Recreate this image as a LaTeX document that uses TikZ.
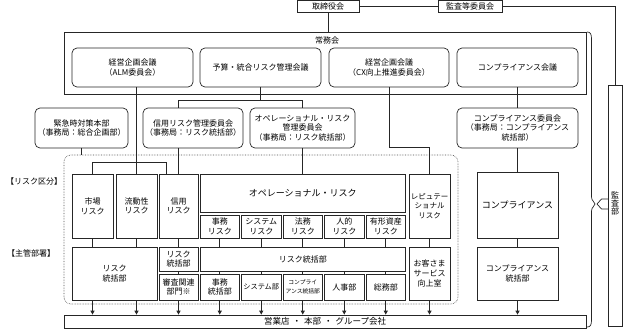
\documentclass[tikz,border=0pt]{standalone}
\usepackage{fontspec}
\newfontfamily\jp{Noto Sans CJK JP}
\usetikzlibrary{arrows.meta}
\newcommand\mkbox[7]{\node[#6, minimum width={#4-#2}, minimum height={#5-#3}] (#1) at ({(#2+#4)/2},{(#3+#5)/2}) {#7};}
\newcommand\fs[2]{\jp\fontsize{#1}{#2}\selectfont}
\begin{document}
\begin{tikzpicture}[x=1pt,y=-1pt,
  every node/.style={font=\jp\fontsize{8}{9.6}\selectfont, text=black},
  box/.style={draw=black!85, line width=0.7pt, inner sep=0pt, align=center},
  rbox/.style={box, rounded corners=5pt},
  ln/.style={draw=black!85, line width=0.7pt},
  arr/.style={ln, -{Triangle[length=4pt,width=4pt]}},
]
\useasboundingbox (0,0) rectangle (623,330);
% top
\mkbox{tori}{297}{0.5}{359}{12.5}{box}{取締役会}
\mkbox{kansa}{438}{0.5}{502}{12.5}{box}{監査等委員会}
\mkbox{joumu}{64}{32}{586}{94}{box}{}
\node (joumulbl) at (327,40.5) {常務会};
\mkbox{alm}{72}{48}{193}{87}{rbox}{経営企画会議\\（ALM委員会）}
\mkbox{yosan}{200}{48}{321}{87}{rbox}{予算・統合リスク管理会議}
\mkbox{cx}{329}{48}{449}{87}{rbox}{経営企画会議\\（CX向上推進委員会）}
\mkbox{compkai}{457}{48}{578}{87}{rbox}{コンプライアンス会議}
% committees
\mkbox{kinkyu}{35}{108}{128}{148}{rbox}{緊急時対策本部\\（事務局：総合企画部）}
\mkbox{shinyoi}{143}{108}{243}{148}{rbox}{信用リスク管理委員会\\（事務局：リスク統括部）}
\mkbox{opei}{250}{108}{355}{148}{rbox}{オペレーショナル・リスク\\管理委員会\\（事務局：リスク統括部）}
\mkbox{compi}{457}{108}{578}{148}{rbox}{コンプライアンス委員会\\（事務局：コンプライアンス\\統括部）}
% dotted area
\draw[densely dotted, draw=black!70, line width=0.6pt, rounded corners=7pt] (64,155) rectangle (458,304);
\coordinate (dtop) at (81.5,155);
\node (lbl1) at (34,181) {【リスク区分】};
\node (lbl2) at (31,253) {【主管部署】};
% risk row
\mkbox{shijo}{72}{174}{113}{238}{box}{市場\\リスク}
\mkbox{ryudo}{116}{174}{157}{238}{box}{流動性\\リスク}
\mkbox{shinyo}{159}{174}{198}{238}{box}{信用\\リスク}
\mkbox{ope}{200}{174}{405.5}{212}{box,font=\fs{9}{11}}{オペレーショナル・リスク}
\mkbox{s1}{200}{215}{239.5}{238}{box}{事務\\リスク}
\mkbox{s2}{241.5}{215}{281}{238}{box}{システム\\リスク}
\mkbox{s3}{283}{215}{322.5}{238}{box}{法務\\リスク}
\mkbox{s4}{324.5}{215}{364}{238}{box}{人的\\リスク}
\mkbox{s5}{366}{215}{405.5}{238}{box}{有形資産\\リスク}
\mkbox{repu}{409}{174}{450}{238}{box,font=\fs{7.5}{9.5}}{レピュテー\\ショナル\\リスク}
\mkbox{comp}{477}{172}{558}{238}{box,font=\fs{9}{11}}{コンプライアンス}
% department row
\mkbox{d1}{72}{247}{157}{300}{box}{リスク\\統括部}
\mkbox{d2}{159}{247}{198}{271}{box}{リスク\\統括部}
\mkbox{d3}{159}{274}{198}{300}{box}{審査関連\\部門※}
\mkbox{d4}{200}{247}{405.5}{271}{box}{リスク統括部}
\mkbox{e1}{200}{274}{239.5}{300}{box}{事務\\統括部}
\mkbox{e2}{241.5}{274}{281}{300}{box,font=\fs{7.2}{9}}{システム部}
\mkbox{e3}{283}{274}{322.5}{300}{box,font=\fs{5.8}{8.5}}{コンプライ\\アンス統括部}
\mkbox{e4}{324.5}{274}{364}{300}{box}{人事部}
\mkbox{e5}{366}{274}{405.5}{300}{box}{総務部}
\mkbox{d5}{409}{247}{450}{300}{box}{お客さま\\サービス\\向上室}
\mkbox{d6}{477}{247}{558}{300}{box}{コンプライアンス\\統括部}
\mkbox{eigyo}{64}{315}{586}{328}{box,font=\fs{8.5}{10}}{営業店\hspace{3pt}・\hspace{3pt}本部\hspace{3pt}・\hspace{3pt}グループ会社}
\mkbox{kansabu}{608}{85}{622}{326}{box}{}
\node[align=center, font=\fs{8}{8.4}] (kansabutxt) at (615,203.5) {監\\査\\部};
% connectors top
\draw[ln] (tori.south) -- (tori.south |- joumu.north);
\draw[ln] (tori.east) -- (kansa.west);
\draw[ln] (kansa.east) -| (kansabu.north);
\draw[ln] (ryudo.north |- alm.south) -- (ryudo.north);
\coordinate (b1) at (92.5,162);
\coordinate (b2) at (166,162);
\draw[ln] (shijo.north) -- (shijo.north |- b1) -- (b2) -- (b2 |- shinyo.north);
\draw[ln] (shinyo.north |- shinyoi.south) -- (shinyo.north);
\coordinate (yb) at (260.5,100);
\draw[ln] (yosan.south) -- (yb);
\draw[ln] (shinyo.north |- shinyoi.north) -- (shinyo.north |- yb) -- (opei.north |- yb) -- (opei.north);
\draw[ln] (opei.south) -- (opei.south |- ope.north);
\coordinate (cxb) at (389,147);
\draw[ln] (cx.south) -- (cx.south |- cxb) -| (repu.north);
\draw[ln] (compkai.south) -- (compi.north);
\draw[ln] (compi.south) -- (comp.north);
\draw[ln] (kinkyu.south) -- (kinkyu.south |- dtop);
% ticks
\foreach \a/\b in {shijo/d1,ryudo/d1,shinyo/d2,s1/d4,s2/d4,s3/d4,s4/d4,s5/d4,repu/d5,comp/d6}
  \draw[ln] (\a.south) -- (\a.south |- \b.north);
\foreach \e in {d3,e1,e2,e3,e4,e5}
  \draw[ln] (\e.north |- d4.south) -- (\e.north);
% arrows to bottom
\foreach \a in {shijo,ryudo}
  \draw[arr] (\a.south |- d1.south) -- (\a.south |- eigyo.north);
\foreach \a in {d3,e1,e2,e3,e4,e5,d5,d6}
  \draw[arr] (\a.south) -- (\a.south |- eigyo.north);
% brace and audit arrow
\draw[ln] (587,32) .. controls (590.5,32) and (591.5,34) .. (591.5,39) -- (591.5,197) .. controls (591.5,201) and (595,202) .. (595,204) .. controls (595,206) and (591.5,207) .. (591.5,211) -- (591.5,320) .. controls (591.5,325) and (590.5,327) .. (587,327);
\coordinate (au1) at (608,199);
\coordinate (au2) at (608,209);
\draw[ln] (au1) -- (601.5,199) -- (597,204) -- (601.5,209) -- (au2);
\end{tikzpicture}
\end{document}
